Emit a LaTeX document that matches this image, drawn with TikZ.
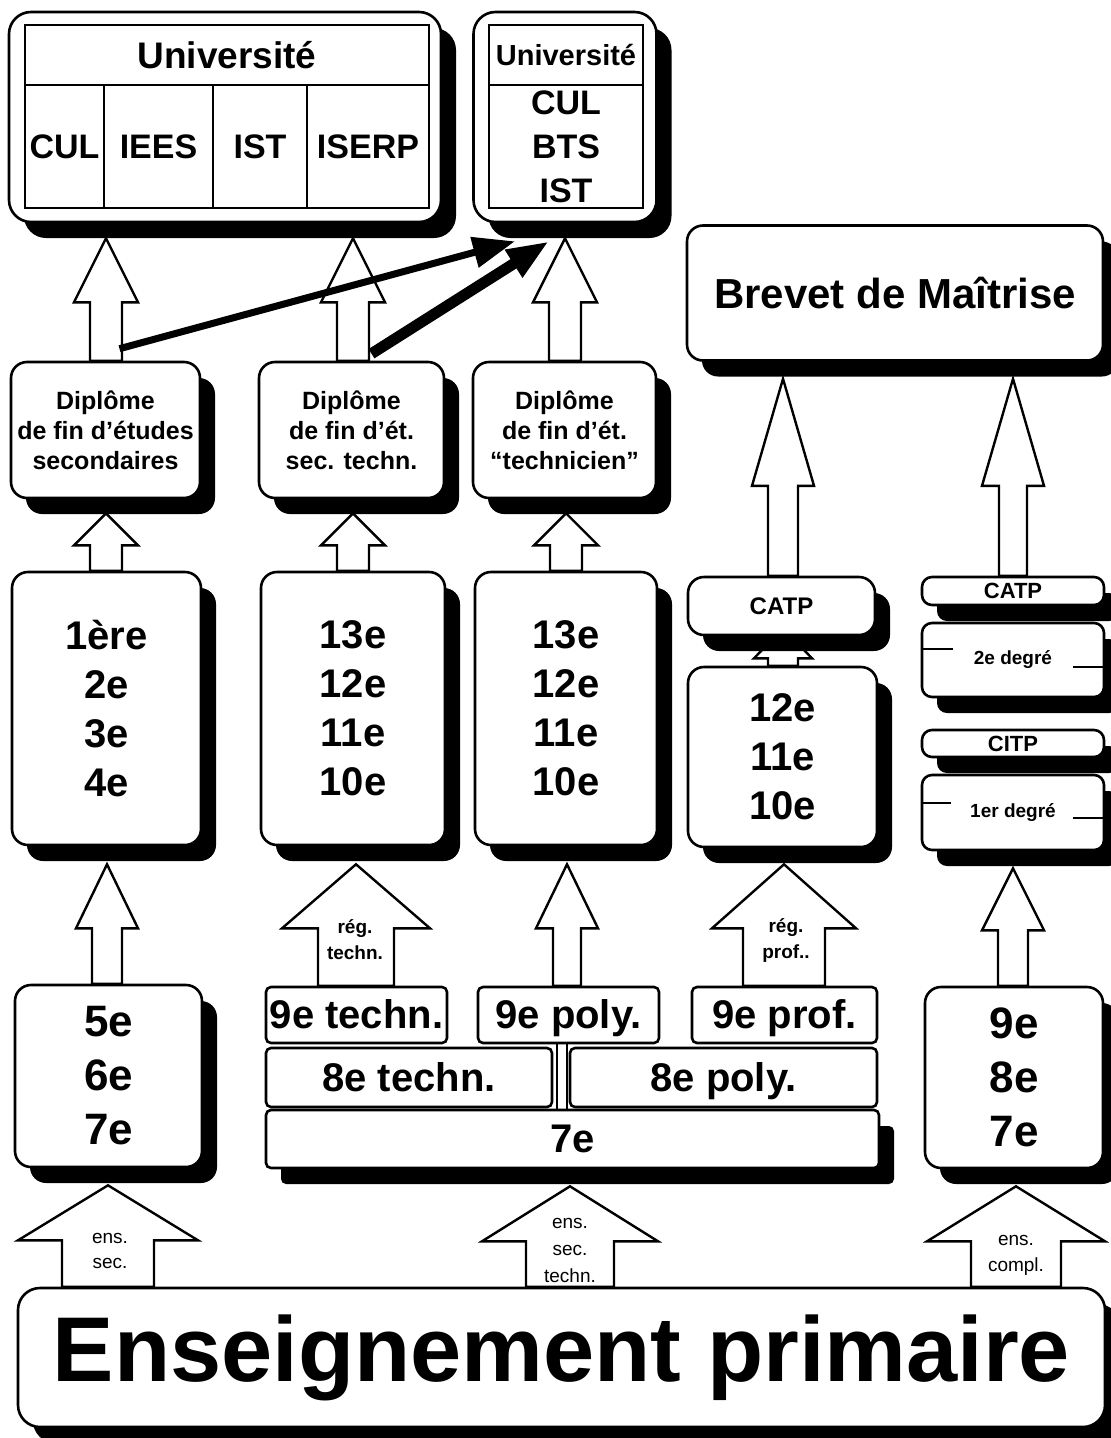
\documentclass[tikz,border=0pt]{standalone}
\usepackage{fontspec}
\setmainfont{Liberation Sans}
\usetikzlibrary{positioning,shadows,backgrounds,arrows.meta,calc}

\newcommand\fsz[2]{\fontsize{#1}{#2}\selectfont\bfseries}
% hollow block arrow: x, lower node, upper node, shaft half, head half, head base below upper node, head length
\newcommand\hollowup[7]{%
  \draw[hollow] (#1,0 |- #3.south) ++(0,#6-#7) -- ++(#5,#7) -- ++(#4-#5,0) coordinate (neck)
    -- (#1+#4,0 |- #2.north) -- (#1-#4,0 |- #2.north) -- (#1-#4,0 |- neck) -- ++(#4-#5,0) -- cycle;}

\begin{document}
\begin{tikzpicture}[
x=1pt, y=-1pt,
box/.style={draw, fill=white, line width=2.6pt, rounded corners=16pt, align=center, inner sep=0pt},
shade/.style={drop shadow={shadow xshift=15pt, shadow yshift=-16pt, opacity=1, fill=black}},
slim/.style={box, shade, rounded corners=10pt, minimum width=182pt},
row/.style={box, rounded corners=5pt, font=\fsz{40}{48}, text height=29pt, text depth=2pt},
cell/.style={draw, line width=2pt, inner sep=0pt, outer sep=0pt, align=center, font=\fsz{34}{44}},
hollow/.style={draw, fill=white, line width=2.4pt, line join=miter},
fat/.style={line width=#1, -{Triangle[length=42pt, width=30pt]}},
tick/.style={line width=2pt},
lbl/.style={align=center, inner sep=0pt, font=\fsz{19}{26}},
]
\useasboundingbox (0,0) rectangle (1111,1438);

% universities
\node[box, shade, rounded corners=22pt, minimum width=432pt, minimum height=210pt] (univA) at (225,117) {};
\node[cell, font=\fsz{37}{44}, minimum width=404pt, minimum height=60pt, anchor=north west] (univAh) at (25,25) {Université};
\node[cell, minimum width=79pt, minimum height=123pt, anchor=north west] (cul) at (25,85) {CUL};
\node[cell, minimum width=109pt, minimum height=123pt, right=0pt of cul] (iees) {IEES};
\node[cell, minimum width=94pt, minimum height=123pt, right=0pt of iees] (ist) {IST};
\node[cell, minimum width=122pt, minimum height=123pt, right=0pt of ist] (iserp) {ISERP};

\node[box, shade, rounded corners=22pt, minimum width=183pt, minimum height=210pt] (univB) at (565,117) {};
\node[cell, font=\fsz{29}{35}, minimum width=154pt, minimum height=60pt, anchor=north west] (univBh) at (489,25) {Université};
\node[cell, minimum width=154pt, minimum height=123pt, below=0pt of univBh] (univBc) {CUL\\BTS\\IST};

\node[box, shade, minimum width=416pt, minimum height=135pt, font=\fsz{42}{48}] (brevet) at (895,293) {Brevet de Maîtrise};

% diplomas
\node[box, shade, minimum width=189pt, minimum height=136pt, font=\fsz{25}{30}] (dipA) at (105.5,430) {Diplôme\\de fin d’études\\secondaires};
\node[box, shade, minimum width=185pt, minimum height=136pt, font=\fsz{25}{30}] (dipB) at (351.5,430) {Diplôme\\de fin d’ét.\\sec. techn.};
\node[box, shade, minimum width=183pt, minimum height=136pt, font=\fsz{25}{30}] (dipC) at (564.5,430) {Diplôme\\de fin d’ét.\\“technicien”};

% upper grades
\node[box, shade, minimum width=189pt, minimum height=273pt, font=\fsz{40}{49}] (grA) at (106.5,708.5) {1ère\\2e\\3e\\4e};
\node[box, shade, minimum width=184pt, minimum height=273pt, font=\fsz{40}{49}] (grB) at (353,708.5) {13e\\12e\\11e\\10e};
\node[box, shade, minimum width=182pt, minimum height=273pt, font=\fsz{40}{49}] (grC) at (566,708.5) {13e\\12e\\11e\\10e};
\node[box, shade, minimum width=187pt, minimum height=58pt, font=\fsz{24}{28}] (catpD) at (781.5,606) {CATP};
\node[box, shade, minimum width=189pt, minimum height=180pt, font=\fsz{40}{49}] (grD) at (782.5,757) {12e\\11e\\10e};

\node[slim, minimum height=28pt, font=\fsz{22}{26}] (catpE) at (1013,591) {CATP};
\node[slim, minimum height=74pt, font=\fsz{19}{23}] (deg2) at (1013,660) {2e degré};
\node[slim, minimum height=27pt, font=\fsz{22}{26}] (citp) at (1013,743.5) {CITP};
\node[slim, minimum height=75pt, font=\fsz{19}{23}] (deg1) at (1013,812.5) {1er degré};
\draw[tick] ([yshift=11pt]deg2.west) -- ++(32,0);
\draw[tick] ([yshift=-7pt]deg2.east) -- ++(-32,0);
\draw[tick] ([yshift=10pt]deg1.west) -- ++(30,0);
\draw[tick] ([yshift=-5pt]deg1.east) -- ++(-32,0);

% lower grades
\node[box, shade, minimum width=187pt, minimum height=182pt, font=\fsz{44}{54}] (lowA) at (108.5,1076) {5e\\6e\\7e};
\node[row, minimum width=181pt, minimum height=56pt] (techn9) at (356.5,1015) {9e techn.};
\node[row, minimum width=181pt, minimum height=56pt] (poly9) at (568.5,1015) {9e poly.};
\node[row, minimum width=185pt, minimum height=56pt] (prof9) at (784.5,1015) {9e prof.};
\node[row, minimum width=286pt, minimum height=59pt] (techn8) at (409,1077.5) {8e techn.};
\node[row, minimum width=307pt, minimum height=59pt] (poly8) at (723.5,1077.5) {8e poly.};
\node[row, shade, minimum width=613pt, minimum height=58pt] (sept) at (572.5,1139) {7e};
\node[box, shade, minimum width=178pt, minimum height=181pt, font=\fsz{44}{54}] (lowE) at (1014,1077.5) {9e\\8e\\7e};
\draw[tick] (557,0 |- sept.north) -- (557,0 |- poly9.south) (567,0 |- sept.north) -- (567,0 |- poly9.south);

\node[box, shade, rounded corners=22pt, minimum width=1087pt, minimum height=139pt, font=\fsz{92}{100}] (prim) at (561.5,1357.5) {Enseignement primaire};

% block arrows
\begin{scope}[on background layer]
\hollowup{106}{dipA}{univA}{16}{32}{79}{64}
\hollowup{353}{dipB}{univA}{16}{32}{79}{64}
\hollowup{565}{dipC}{univB}{16}{32}{79}{64}
\hollowup{783}{catpD}{brevet}{15}{31}{124}{107}
\hollowup{1013}{catpE}{brevet}{14}{31}{124}{107}
\hollowup{106}{grA}{dipA}{16}{32}{46}{32}
\hollowup{353}{grB}{dipB}{16}{32}{46}{32}
\hollowup{566}{grC}{dipC}{16}{32}{46}{32}
\hollowup{107}{lowA}{grA}{15}{31}{82}{64}
\hollowup{356}{techn9}{grB}{38}{74}{82}{64}
\hollowup{567}{poly9}{grC}{14}{31}{82}{64}
\hollowup{784}{prof9}{grD}{41}{72}{80}{64}
\hollowup{783}{grD}{catpD}{15}{29}{22}{30}
\hollowup{1013}{lowE}{deg1}{15}{31}{79}{62}
\hollowup{108}{prim}{lowA}{46}{90}{72}{55}
\hollowup{570}{prim}{sept}{44}{88}{72}{55}
\hollowup{1016}{prim}{lowE}{45}{89}{72}{55}
\end{scope}

\node[lbl] (lTechn) at (355,940) {rég.\\techn.};
\node[lbl] (lProf) at (786,940) {rég.\\prof..};
\node[lbl, font=\fsz{19}{25}\mdseries] (lSec) at (110,1251) {ens.\\sec.};
\node[lbl, font=\fsz{19}{27}\mdseries] (lSecT) at (570,1250) {ens.\\sec.\\techn.};
\node[lbl, font=\fsz{19}{26}\mdseries] (lCompl) at (1016,1255) {ens.\\compl.};

\draw[fat=7pt] ([xshift=14pt,yshift=12pt]dipA.north) -- ([xshift=-50pt,yshift=-18pt]univB.south);
\draw[fat=11pt] ([xshift=20pt,yshift=7pt]dipB.north) -- ([xshift=-16pt,yshift=-18pt]univB.south);

\end{tikzpicture}
\end{document}
